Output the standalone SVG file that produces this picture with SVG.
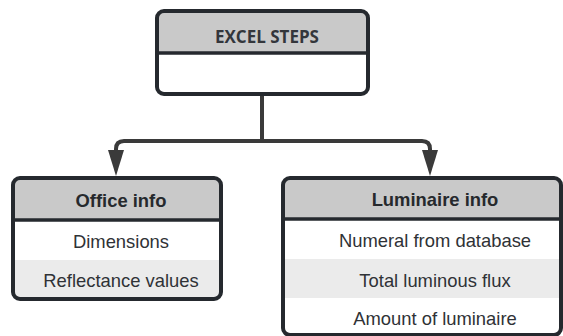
<svg xmlns="http://www.w3.org/2000/svg" width="563" height="336" viewBox="0 0 563 336">
  <defs>
    <style>
      .frame { fill: none; stroke: #25292e; stroke-width: 4; }
      .divider { stroke: #25292e; stroke-width: 3.5; }
      .head { fill: #c9c9c9; }
      .alt { fill: #ebebeb; }
      .title { font-family: "Open Sans", "Liberation Sans", sans-serif; font-weight: 700; font-size: 17px; fill: #33363b; text-anchor: middle; }
      .htext { font-family: "Liberation Sans", Arial, sans-serif; font-weight: 700; font-size: 18.4px; fill: #26292d; text-anchor: middle; }
      .row { font-family: "Liberation Sans", Arial, sans-serif; font-size: 18.4px; fill: #2f3236; text-anchor: middle; }
      .wire { fill: none; stroke: #3a3a3a; stroke-width: 4; stroke-linejoin: round; }
      .head-arrow { fill: #3a3a3a; }
    </style>
  </defs>

  <rect width="563" height="336" fill="#ffffff"/>

  <!-- connectors: trunk from the top box, splitting to both children -->
  <g id="connectors">
    <path class="wire" d="M262,94 V141"/>
    <path class="wire" d="M262,141 H124 Q116,141 116,149 V151"/>
    <path class="wire" d="M262,141 H422 Q430,141 430,149 V151"/>
    <path class="head-arrow" d="M108,150 L124,150 L116,176 Z"/>
    <path class="head-arrow" d="M422,150 L438,150 L430,176 Z"/>
  </g>

  <!-- top node -->
  <g id="excel-steps">
    <rect x="157" y="11" width="211" height="83" rx="7" fill="#ffffff"/>
    <rect x="157" y="11" width="211" height="42" rx="7" class="head"/>
    <rect x="157" y="40" width="211" height="13" class="head"/>
    <line x1="157" y1="53" x2="368" y2="53" class="divider"/>
    <rect x="157" y="11" width="211" height="83" rx="7" class="frame"/>
    <text x="267" y="43" class="title">EXCEL STEPS</text>
  </g>

  <!-- left child -->
  <g id="office-info">
    <rect x="13" y="178" width="208" height="121" rx="7" fill="#ffffff"/>
    <rect x="13" y="178" width="208" height="42" rx="7" class="head"/>
    <rect x="13" y="205" width="208" height="15" class="head"/>
    <rect x="13" y="260" width="208" height="37" class="alt"/>
    <line x1="13" y1="220" x2="221" y2="220" class="divider"/>
    <rect x="13" y="178" width="208" height="121" rx="7" class="frame"/>
    <text x="121" y="207" class="htext">Office info</text>
    <text x="121" y="248" class="row">Dimensions</text>
    <text x="121" y="287" class="row">Reflectance values</text>
  </g>

  <!-- right child -->
  <g id="luminaire-info">
    <rect x="283" y="178" width="278" height="157" rx="7" fill="#ffffff"/>
    <rect x="283" y="178" width="278" height="42" rx="7" class="head"/>
    <rect x="283" y="205" width="278" height="15" class="head"/>
    <rect x="283" y="259" width="278" height="39" class="alt"/>
    <line x1="283" y1="219" x2="561" y2="219" class="divider"/>
    <rect x="283" y="178" width="278" height="157" rx="7" class="frame"/>
    <text x="435" y="206" class="htext">Luminaire info</text>
    <text x="435" y="247" class="row">Numeral from database</text>
    <text x="435" y="287" class="row">Total luminous flux</text>
    <text x="435" y="325" class="row">Amount of luminaire</text>
  </g>
</svg>
